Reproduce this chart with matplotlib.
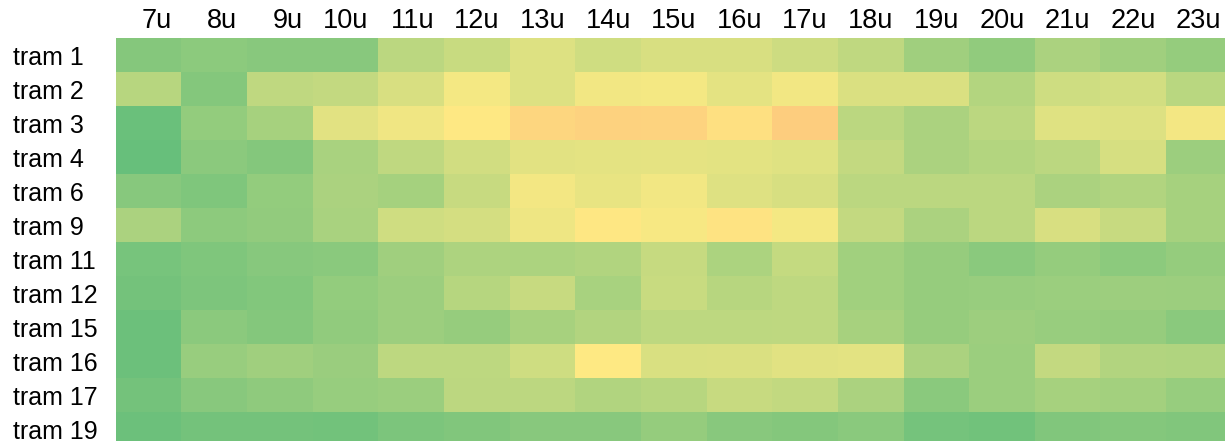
import numpy as np
import matplotlib
matplotlib.use("Agg")
import matplotlib.pyplot as plt
from matplotlib.colors import LinearSegmentedColormap

# uren en tramlijnen
hours = ["7u", "8u", "9u", "10u", "11u", "12u", "13u", "14u", "15u",
         "16u", "17u", "18u", "19u", "20u", "21u", "22u", "23u"]
lines = ["tram 1", "tram 2", "tram 3", "tram 4", "tram 6", "tram 9",
         "tram 11", "tram 12", "tram 15", "tram 16", "tram 17", "tram 19"]

# drukte per lijn per uur (0-100)
tram_1 = [11.2, 13.5, 12.2, 12.2, 28.2, 32.7, 39.1, 34.9, 37.5, 37.5, 34.0, 29.8, 19.6, 15.1, 23.1, 19.6, 16.3]
tram_2 = [27.2, 10.6, 29.8, 31.1, 37.5, 46.8, 39.1, 45.8, 46.8, 41.7, 45.8, 38.5, 38.5, 26.0, 34.6, 35.9, 27.9]
tram_3 = [2.6, 16.0, 21.5, 40.7, 45.5, 50.8, 58.1, 59.6, 59.2, 54.2, 61.2, 28.2, 23.4, 28.5, 40.1, 39.4, 46.2]
tram_4 = [1.6, 13.1, 10.9, 22.8, 29.8, 35.3, 41.0, 41.7, 42.0, 41.3, 40.1, 31.1, 23.1, 26.0, 28.2, 36.9, 18.6]
tram_6 = [11.9, 9.3, 15.7, 23.4, 21.2, 32.4, 46.2, 42.9, 45.8, 39.7, 37.2, 28.5, 28.5, 28.5, 23.4, 25.3, 21.8]
tram_9 = [23.1, 13.8, 15.4, 22.8, 34.9, 36.5, 44.9, 51.5, 47.4, 53.0, 46.5, 31.1, 23.1, 28.2, 37.5, 32.4, 21.8]
tram_11 = [6.7, 9.3, 11.9, 12.8, 19.6, 24.0, 23.7, 25.3, 31.7, 23.7, 31.4, 20.2, 16.7, 12.8, 16.3, 13.5, 16.3]
tram_12 = [5.8, 8.7, 10.3, 16.0, 18.6, 26.9, 32.4, 22.4, 32.7, 27.2, 29.5, 20.2, 16.7, 17.3, 18.3, 18.9, 18.6]
tram_15 = [3.5, 13.1, 10.6, 15.1, 18.6, 16.7, 22.1, 25.6, 29.2, 29.2, 29.5, 22.1, 16.7, 18.9, 17.3, 16.7, 12.8]
tram_16 = [3.5, 17.3, 19.6, 17.9, 29.2, 29.2, 34.6, 50.4, 38.1, 38.5, 40.4, 41.3, 23.4, 18.3, 31.1, 25.6, 24.7]
tram_17 = [5.8, 12.2, 14.4, 17.0, 18.3, 28.8, 28.8, 25.3, 27.2, 32.1, 30.8, 23.4, 12.8, 18.3, 21.5, 20.8, 17.0]
tram_19 = [3.5, 5.8, 5.8, 5.4, 8.3, 9.9, 12.2, 12.2, 16.3, 12.2, 10.6, 12.8, 6.1, 4.8, 9.9, 10.6, 9.9]

data = np.array([tram_1, tram_2, tram_3, tram_4, tram_6, tram_9,
                 tram_11, tram_12, tram_15, tram_16, tram_17, tram_19])

# groen - geel - rood schaal zoals in excel
cmap = LinearSegmentedColormap.from_list("gyr", ["#63BE7B", "#FFEB84", "#F8696B"])

plt.rcParams["font.family"] = ["Liberation Sans", "DejaVu Sans"]

fig = plt.figure(figsize=(12.25, 4.41), dpi=100)
W, H = 1225, 441
n_rows, n_cols = data.shape
cell_w, cell_h = 65.6, 34.0
left, top = 116, 38
ax = fig.add_axes([left / W, (H - top - n_rows * cell_h) / H,
                   n_cols * cell_w / W, n_rows * cell_h / H])

ax.imshow(data, cmap=cmap, vmin=0, vmax=100, aspect="auto", interpolation="nearest")

ax.xaxis.tick_top()
ax.set_xticks(np.arange(n_cols) + 0.35)
ax.set_xticklabels(hours, ha="right", fontsize=19.5)
ax.set_yticks(np.arange(n_rows))
ax.set_yticklabels(lines, ha="left", fontsize=18)
ax.tick_params(axis="x", length=0, pad=3)
ax.tick_params(axis="y", length=0, pad=74)
for s in ax.spines.values():
    s.set_visible(False)

fig.savefig("out.png", dpi=100)
